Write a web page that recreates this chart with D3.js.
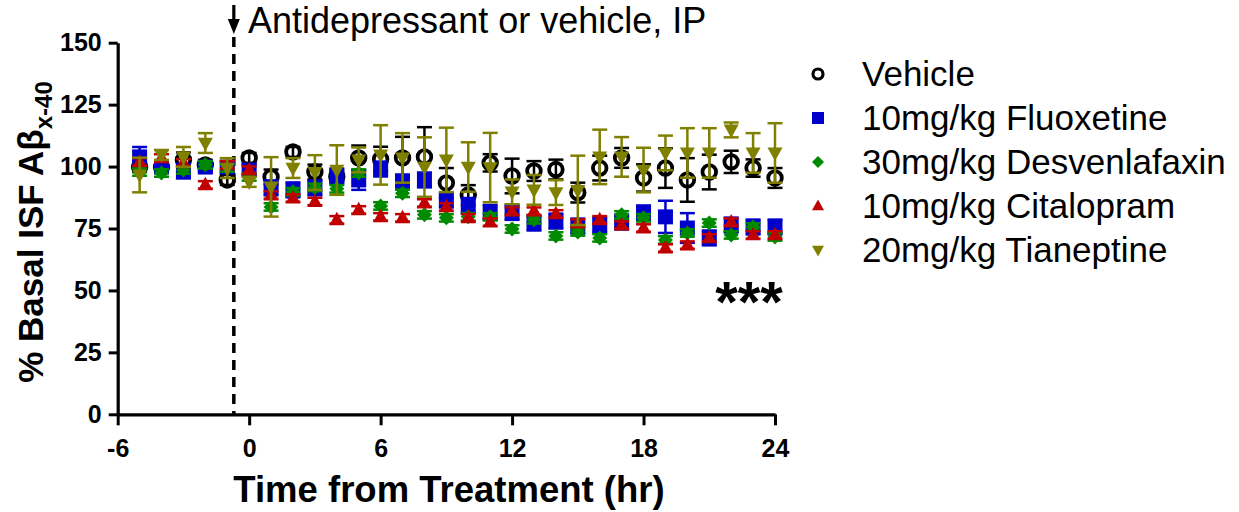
<!DOCTYPE html>
<html>
<head>
<meta charset="utf-8">
<script src="https://cdn.jsdelivr.net/npm/d3@7"></script>
<style>
  html, body { margin: 0; padding: 0; background: #fff; }
  svg { display: block; font-family: "Liberation Sans", Arial, sans-serif; }
</style>
</head>
<body>
<svg id="chart" width="1239" height="512"></svg>
<script>
// ---------- data ----------
const hours = [-5,-4,-3,-2,-1,0,1,2,3,4,5,6,7,8,9,10,11,12,13,14,15,16,17,18,19,20,21,22,23,24];

const vehicle      = [99.8,99.8,102.7,100.7,94.6,103.5,95.8,105.9,97.8,96.0,103.5,103.0,103.5,103.9,93.4,88.5,101.5,96.2,98.2,98.8,89.5,99.4,103.5,95.4,99.4,94.6,97.8,101.9,99.4,95.4];
const vehicleErr   = [2,2,3,2,2,2,3,2,3,2,5,5,8.5,12,6,4,3.5,7,4,4,4,5,4,5.5,8,8.8,7,4.5,3.5,4];

const fluoxetine   = [103.9,99.8,98.2,99.8,99.8,98.6,91.4,90.6,91.4,96.2,94.6,99.0,93.8,94.6,86.5,84.3,81.5,81.5,77.2,78.0,76.0,76.4,77.6,81.3,79.7,75.2,71.2,76.4,75.6,75.6];
const fluoxetineErr= [4,2,3,2,2,2,3,3,3,3,4,3,3,3,3,3,3,3,3,3,3,3,3,3,6.5,6,3,3,3,3];

const desvenlafaxine    = [97.8,97.4,98.6,100.7,99.4,95.8,83.7,89.8,91.6,91.0,97.4,84.1,89.2,80.5,79.3,79.7,79.7,74.8,78.5,72.0,73.6,71.2,80.5,79.3,70.4,73.2,77.2,72.4,75.6,71.6];
const desvenlafaxineErr = [1.5,1.5,1.5,1.5,1.5,1.5,1.5,1.5,1.5,1.5,1.5,1.5,1.5,1.5,1.5,1.5,1.5,1.5,1.5,1.5,1.5,1.5,1.5,1.5,1.5,1.5,1.5,1.5,1.5,1.5];

const citalopram    = [101.9,103.5,101.5,92.6,100.7,98.6,88.5,87.3,85.9,78.5,82.5,79.7,79.3,85.3,83.7,79.3,77.6,82.0,82.0,80.9,77.2,78.5,76.4,75.2,67.1,68.3,71.2,77.6,72.4,72.4];
const citalopramErr = [1.5,1.5,1.5,1.5,1.5,1.5,1.5,1.5,1.5,1.5,1.5,1.5,1.5,1.5,1.5,1.5,1.5,1.5,1.5,1.5,1.5,1.5,1.5,1.5,1.5,1.5,1.5,1.5,1.5,1.5];

const tianeptine    = [96.6,104.7,103.9,109.5,99.4,93.8,91.8,99.4,97.6,98.6,102.7,104.7,103.5,99.8,102.7,99.8,99.6,89.8,90.6,89.5,90.4,103.9,103.9,98.6,105.5,105.5,105.5,114.8,105.5,105.5];
const tianeptineErr = [7,2,4,4,4,2,12,4,7,10,5,12,10,12,13,10,14,5,6,5,14,11,8,9,7,10,10,3,8,12];

const seriesNames  = ["Vehicle","10mg/kg Fluoxetine","30mg/kg Desvenlafaxin","10mg/kg Citalopram","20mg/kg Tianeptine"];
const xTicks = [-6,0,6,12,18,24];
const yTicks = [0,25,50,75,100,125,150];
const treatmentTime = -0.7;
const annotationText = "Antidepressant or vehicle, IP";
const significance = "***";

// ---------- styling ----------
const colors = ["#000000","#0000cc","#008a00","#c00000","#808000"];
const shapes = ["circle","square","diamond","triangle","triangleDown"];
const seriesValues = [vehicle, fluoxetine, desvenlafaxine, citalopram, tianeptine];
const seriesErrors = [vehicleErr, fluoxetineErr, desvenlafaxineErr, citalopramErr, tianeptineErr];

const svg = d3.select("#chart");
const x = d3.scaleLinear().domain([-6, 24]).range([117.7, 775]);
const y = d3.scaleLinear().domain([0, 150]).range([414.3, 42.7]);

function shapePath(shape, s) {
  const h = s / 2;
  switch (shape) {
    case "square": return `M${-h},${-h}H${h}V${h}H${-h}Z`;
    case "diamond": return `M0,${-h}L${h},0L0,${h}L${-h},0Z`;
    case "triangle": { const th = s * 0.9; return `M0,${-th*0.6}L${h},${th*0.4}L${-h},${th*0.4}Z`; }
    case "triangleDown": { const th = s * 0.9; return `M0,${th*0.6}L${h},${-th*0.4}L${-h},${-th*0.4}Z`; }
  }
  return "";
}

// dashed treatment line
svg.append("line")
  .attr("x1", x(treatmentTime)).attr("x2", x(treatmentTime))
  .attr("y1", 37).attr("y2", y(0))
  .attr("stroke", "#000").attr("stroke-width", 3.5)
  .attr("stroke-dasharray", "10,7");

// arrow + annotation
svg.append("line")
  .attr("x1", x(treatmentTime)).attr("x2", x(treatmentTime))
  .attr("y1", 5).attr("y2", 22)
  .attr("stroke", "#000").attr("stroke-width", 3.2);
svg.append("path")
  .attr("d", `M${x(treatmentTime)-6},19L${x(treatmentTime)+6},19L${x(treatmentTime)},34Z`)
  .attr("fill", "#000");
svg.append("text")
  .attr("x", 248).attr("y", 33)
  .attr("font-size", 36)
  .text(annotationText);

// axes
const yAxis = d3.axisLeft(y).tickValues(yTicks).tickSize(9).tickSizeOuter(0).tickPadding(7);
const gy = svg.append("g").attr("transform", `translate(${x(-6)},0)`).call(yAxis);
gy.select(".domain").attr("stroke-width", 3.2);
gy.selectAll(".tick line").attr("stroke-width", 3);
gy.selectAll(".tick text").attr("font-size", 25).attr("font-weight", "bold")
  .attr("font-family", "Liberation Sans, Arial, sans-serif").attr("fill", "#000");

const xAxis = d3.axisBottom(x).tickValues(xTicks).tickFormat(d => String(d))
  .tickSize(11).tickSizeOuter(0).tickPadding(14);
const gx = svg.append("g").attr("transform", `translate(0,${y(0)})`).call(xAxis);
gx.select(".domain").attr("stroke-width", 3.2);
gx.selectAll(".tick line").attr("stroke-width", 3);
gx.selectAll(".tick text").attr("font-size", 25).attr("font-weight", "bold")
  .attr("font-family", "Liberation Sans, Arial, sans-serif").attr("fill", "#000");

// axis titles
svg.append("text")
  .attr("x", 449).attr("y", 502)
  .attr("text-anchor", "middle")
  .attr("font-size", 36.5).attr("font-weight", "bold")
  .text("Time from Treatment (hr)");

const yt = svg.append("text")
  .attr("transform", "translate(43,232) rotate(-90)")
  .attr("text-anchor", "middle")
  .attr("font-size", 35).attr("font-weight", "bold");
yt.append("tspan").text("% Basal ISF Aβ");
yt.append("tspan").attr("font-size", 24).attr("dy", 9).text("x-40");

// data layers
const markerSize = 15;
seriesValues.forEach((vals, si) => {
  const g = svg.append("g");
  const color = colors[si];
  const pts = hours.map((h, i) => ({ h, v: vals[i], e: seriesErrors[si][i] }));
  // error bars
  const eb = g.selectAll(".eb").data(pts).enter().append("g");
  eb.append("line")
    .attr("x1", d => x(d.h)).attr("x2", d => x(d.h))
    .attr("y1", d => y(d.v - d.e)).attr("y2", d => y(d.v + d.e))
    .attr("stroke", color).attr("stroke-width", 2.5);
  [1, -1].forEach(sgn => {
    eb.append("line")
      .attr("x1", d => x(d.h) - 7.5).attr("x2", d => x(d.h) + 7.5)
      .attr("y1", d => y(d.v + sgn * d.e)).attr("y2", d => y(d.v + sgn * d.e))
      .attr("stroke", color).attr("stroke-width", 2.5);
  });
  // markers
  if (shapes[si] === "circle") {
    g.selectAll(".m").data(pts).enter().append("circle")
      .attr("cx", d => x(d.h)).attr("cy", d => y(d.v)).attr("r", 6.8)
      .attr("fill", "none").attr("stroke", color).attr("stroke-width", 3.8);
  } else {
    g.selectAll(".m").data(pts).enter().append("path")
      .attr("transform", d => `translate(${x(d.h)},${y(d.v)})`)
      .attr("d", shapePath(shapes[si], markerSize))
      .attr("fill", color);
  }
});

// significance stars
svg.append("text")
  .attr("x", 749).attr("y", 322)
  .attr("text-anchor", "middle")
  .attr("font-size", 58).attr("font-weight", "bold")
  .text(significance);

// legend
const legend = svg.append("g");
seriesNames.forEach((name, i) => {
  const cy = 74 + 44 * i;
  if (shapes[i] === "circle") {
    legend.append("circle").attr("cx", 818).attr("cy", cy).attr("r", 5)
      .attr("fill", "none").attr("stroke", colors[i]).attr("stroke-width", 3.2);
  } else {
    legend.append("path").attr("transform", `translate(818,${cy})`)
      .attr("d", shapePath(shapes[i], 12)).attr("fill", colors[i]);
  }
  legend.append("text").attr("x", 862).attr("y", cy + 12)
    .attr("font-size", 35).text(name);
});
</script>
</body>
</html>
